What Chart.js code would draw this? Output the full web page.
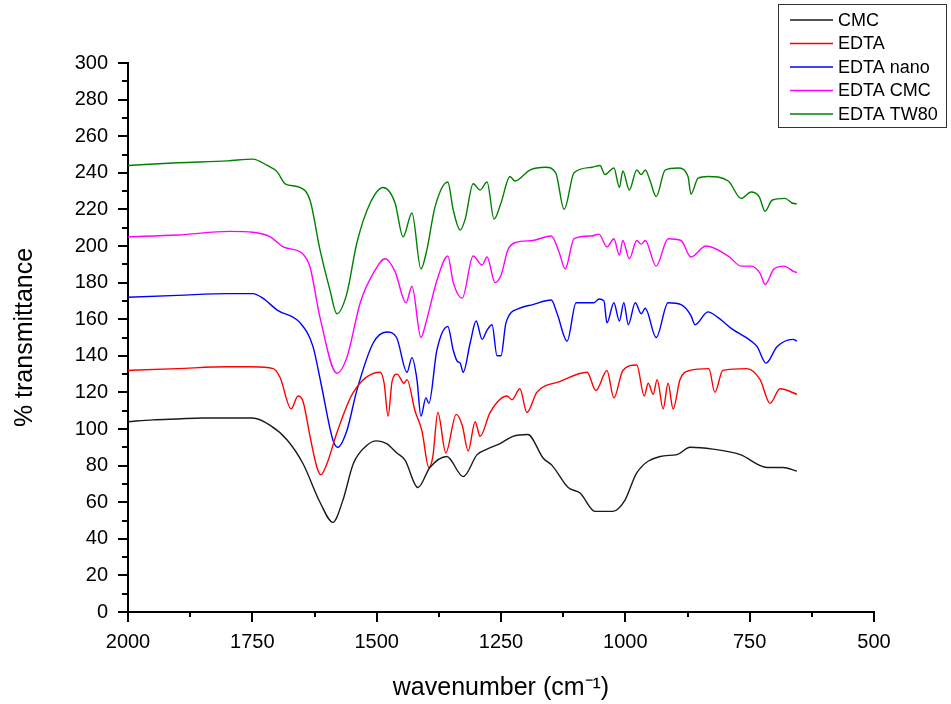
<!DOCTYPE html>
<html>
<head>
<meta charset="utf-8">
<script src="https://cdn.jsdelivr.net/npm/chart.js@4.4.1/dist/chart.umd.min.js"></script>
<style>
  body { margin: 0; background: #fff; }
  canvas { display: block; }
</style>
</head>
<body>
<canvas id="myChart" width="951" height="704"></canvas>
<script>
// series names, same order as the legend
var nombres = ["CMC", "EDTA", "EDTA nano", "EDTA CMC", "EDTA TW80"];
var colores = ["#1a1a1a", "#ff0000", "#0000ff", "#ff00ff", "#008000"];

var xTicks = [2000, 1750, 1500, 1250, 1000, 750, 500];
var yTicks = [0, 20, 40, 60, 80, 100, 120, 140, 160, 180, 200, 220, 240, 260, 280, 300];

var cmcWave = [2000, 1950, 1900, 1850, 1800, 1750, 1714, 1680, 1648, 1614, 1588, 1568, 1547, 1520, 1500, 1480, 1460, 1443, 1417, 1393, 1359, 1326, 1298, 1278, 1252, 1226, 1196, 1165, 1147, 1115, 1091, 1061, 1025, 1001, 977, 930, 896, 870, 824, 769, 715, 683, 655];
var cmcT = [104, 105, 105.5, 106, 106, 106, 102, 94, 81, 60, 49, 61, 81, 91, 93.5, 92, 87, 83, 68, 79, 85, 74, 86, 89, 92, 96, 97, 84, 80, 68, 65, 55, 55, 61, 76, 85, 86, 90, 89, 86, 79, 79, 77];

var edtaWave = [2000, 1900, 1800, 1750, 1708, 1694, 1672, 1658, 1648, 1634, 1620, 1612, 1600, 1580, 1547, 1493, 1485, 1477, 1469, 1459, 1445, 1439, 1423, 1409, 1395, 1387, 1377, 1361, 1340, 1328, 1316, 1302, 1292, 1272, 1238, 1228, 1212, 1198, 1178, 1131, 1077, 1059, 1037, 1023, 1005, 977, 962, 954, 944, 936, 924, 914, 904, 890, 870, 832, 820, 804, 756, 729, 709, 689, 655];
var edtaT = [132, 133, 134, 134, 133, 128, 111, 118, 115, 96, 79, 75, 81, 98, 120, 131, 125, 107, 126, 130, 125, 127, 110, 99, 79, 85, 109, 87, 108, 102, 88, 104, 96, 109, 118, 116, 122, 109, 120, 126, 131, 121, 132, 117, 132, 135, 118, 125, 119, 127, 111, 125, 111, 127, 132, 133, 120, 132, 133, 127, 114, 122, 119];

var nanoWave = [2000, 1900, 1800, 1749, 1729, 1700, 1654, 1628, 1612, 1588, 1578, 1560, 1540, 1507, 1480, 1460, 1439, 1429, 1419, 1411, 1401, 1395, 1379, 1357, 1346, 1338, 1332, 1326, 1312, 1300, 1288, 1278, 1268, 1258, 1250, 1240, 1212, 1186, 1149, 1137, 1117, 1099, 1063, 1053, 1043, 1037, 1023, 1012, 1003, 994, 980, 968, 960, 938, 914, 888, 868, 860, 834, 814, 787, 747, 735, 717, 695, 663, 655];
var nanoT = [172, 173, 174, 174, 171.5, 165, 158, 145, 125, 94, 90, 99, 121, 147, 153, 150, 131, 139, 127, 107, 117, 114, 143, 156, 143, 137, 136, 131, 147, 159, 149, 154, 157, 140, 140, 158, 166, 168, 170.5, 163, 148, 169, 169, 171, 170, 158, 169, 159, 169, 157, 169, 163, 166, 150, 169, 168, 162, 157, 164, 161, 155, 148, 145, 136, 145, 149, 148];

var cmcEdtaWave = [2000, 1900, 1795, 1749, 1714, 1688, 1650, 1634, 1614, 1580, 1560, 1533, 1507, 1483, 1463, 1441, 1429, 1411, 1401, 1379, 1357, 1346, 1328, 1306, 1288, 1278, 1262, 1250, 1236, 1220, 1186, 1149, 1133, 1121, 1103, 1067, 1053, 1037, 1023, 1012, 1005, 992, 977, 968, 960, 938, 914, 888, 868, 838, 793, 767, 747, 729, 719, 701, 681, 661, 655];
var cmcEdtaT = [205, 206, 208, 207.5, 205, 199.5, 196, 188.5, 161, 130.5, 139, 169, 185, 193, 186, 169, 178, 150, 158, 181, 194.5, 180, 171.5, 194.5, 189.6, 194, 180, 184, 198, 202, 203, 205.5, 196.5, 187.5, 204, 205.5, 206.5, 199.5, 204, 195, 203, 193, 203, 201, 203, 189, 204, 203, 194, 200, 194.5, 189, 189, 185, 179, 187.5, 189, 186, 185.5];

var tw80Wave = [2000, 1900, 1800, 1749, 1720, 1700, 1684, 1654, 1634, 1614, 1594, 1580, 1560, 1540, 1513, 1487, 1463, 1447, 1429, 1411, 1399, 1383, 1357, 1346, 1332, 1322, 1306, 1292, 1278, 1264, 1250, 1232, 1222, 1192, 1160, 1140, 1123, 1103, 1067, 1051, 1041, 1023, 1012, 1005, 992, 977, 968, 960, 950, 938, 920, 894, 874, 868, 854, 834, 793, 767, 747, 731, 719, 705, 679, 665, 655];
var tw80T = [244, 245.5, 246.5, 247.5, 244, 240.5, 234, 232, 225, 198, 176, 163, 174, 201.5, 223.5, 232, 223.5, 205, 218, 187.5, 198, 221, 235, 219.6, 208.7, 214.7, 234, 230.6, 235, 214.7, 223.5, 238, 235.5, 241.5, 243, 240, 220, 240, 243, 244, 239, 242.6, 232, 241, 230.6, 241.5, 239, 241.5, 235.5, 227, 241.5, 242.6, 238, 228.4, 237, 238, 235.5, 226, 229.5, 227, 219, 225, 226, 223.5, 223];

var ondas = [cmcWave, edtaWave, nanoWave, cmcEdtaWave, tw80Wave];
var valores = [cmcT, edtaT, nanoT, cmcEdtaT, tw80T];

var fuente = "'Liberation Sans', Arial, sans-serif";

function puntos(w, t) {
  return w.map(function (x, i) { return { x: x, y: t[i] }; });
}

var datasets = [];
for (let i = 0; i < nombres.length; i++) {
  datasets.push({
    label: nombres[i],
    data: puntos(ondas[i], valores[i]),
    borderColor: colores[i],
    backgroundColor: colores[i],
    borderWidth: 1.4,
    pointRadius: 0,
    cubicInterpolationMode: "monotone",
    fill: false
  });
}

// minor ticks and the boxed legend
var extras = {
  id: "extras",
  afterDraw: function (chart) {
    const c = chart.ctx;
    const xs = chart.scales.x;
    const ys = chart.scales.y;
    c.save();
    c.strokeStyle = "#000";
    c.lineWidth = 2;
    c.beginPath();
    for (let v = 10; v < 300; v += 20) {
      let py = Math.round(ys.getPixelForValue(v));
      c.moveTo(xs.left - 6, py);
      c.lineTo(xs.left, py);
    }
    for (let v = 1875; v > 500; v -= 250) {
      let px = Math.round(xs.getPixelForValue(v));
      c.moveTo(px, ys.bottom);
      c.lineTo(px, ys.bottom + 5);
    }
    c.stroke();

    // legend
    c.fillStyle = "#fff";
    c.fillRect(778, 4, 168, 123);
    c.strokeStyle = "#333";
    c.lineWidth = 1;
    c.strokeRect(778.5, 4.5, 168, 123);
    c.font = "18px " + fuente;
    c.textBaseline = "middle";
    for (let i = 0; i < nombres.length; i++) {
      let y = 20 + i * 23.5;
      c.strokeStyle = colores[i];
      c.lineWidth = 1.3;
      c.beginPath();
      c.moveTo(790, y);
      c.lineTo(833, y);
      c.stroke();
      c.fillStyle = "#000";
      c.fillText(nombres[i], 838, y + 1);
    }
    c.restore();
  }
};

function sinComa(v) {
  return String(v);
}

new Chart(document.getElementById("myChart"), {
  type: "line",
  data: { datasets: datasets },
  plugins: [extras],
  options: {
    responsive: false,
    animation: false,
    layout: { padding: { left: 0, right: 77, top: 63, bottom: 0 } },
    plugins: {
      legend: { display: false },
      tooltip: { enabled: false }
    },
    scales: {
      x: {
        type: "linear",
        reverse: true,
        min: 500,
        max: 2000,
        afterBuildTicks: function (s) { s.ticks = xTicks.map(function (v) { return { value: v }; }); },
        afterFit: function (s) { s.height = 92; },
        border: { color: "#000", width: 2 },
        grid: { drawOnChartArea: false, color: "#000", lineWidth: 2, tickLength: 10 },
        ticks: { color: "#000", font: { family: fuente, size: 20 }, padding: 8, maxRotation: 0, callback: sinComa },
        title: {
          display: true,
          text: "wavenumber (cm⁻¹)",
          color: "#000",
          font: { family: fuente, size: 25 },
          padding: { top: 0, bottom: 1 }
        }
      },
      y: {
        min: 0,
        max: 300,
        afterBuildTicks: function (s) { s.ticks = yTicks.map(function (v) { return { value: v }; }); },
        afterFit: function (s) { s.width = 128; },
        border: { color: "#000", width: 2 },
        grid: { drawOnChartArea: false, color: "#000", lineWidth: 2, tickLength: 10 },
        ticks: { color: "#000", font: { family: fuente, size: 20 }, padding: 10, callback: sinComa },
        title: {
          display: true,
          text: "% transmittance",
          color: "#000",
          font: { family: fuente, size: 25 },
          padding: { top: 10, bottom: 0 }
        }
      }
    }
  }
});
</script>
</body>
</html>
